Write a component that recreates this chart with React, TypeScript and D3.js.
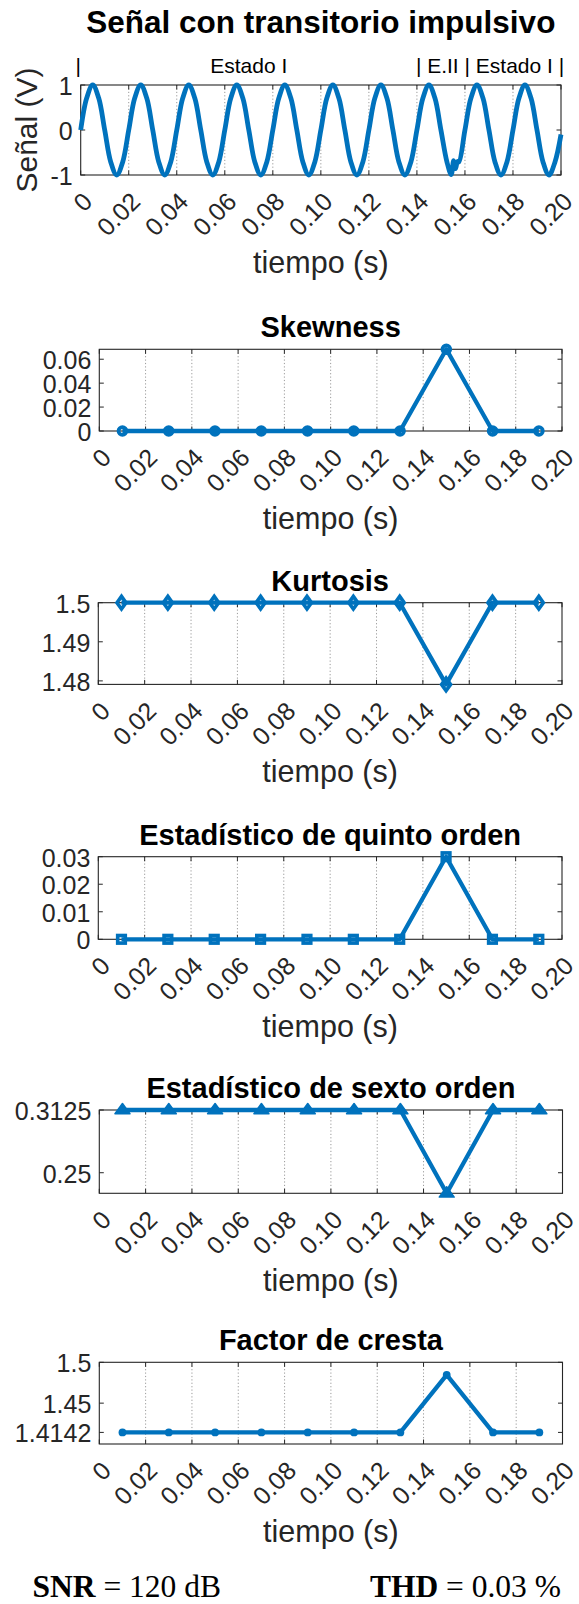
import React from "react";
import * as d3 from "d3";

// ---------------- DATA ----------------
const SEGMENT_TIMES = [0.01, 0.03, 0.05, 0.07, 0.09, 0.11, 0.13, 0.15, 0.17, 0.19];
const SKEWNESS = [0, 0, 0, 0, 0, 0, 0, 0.0683, 0, 0];
const KURTOSIS = [1.5, 1.5, 1.5, 1.5, 1.5, 1.5, 1.5, 1.4791, 1.5, 1.5];
const FIFTH_ORDER = [0, 0, 0, 0, 0, 0, 0, 0.03, 0, 0];
const SIXTH_ORDER = [0.3125, 0.3125, 0.3125, 0.3125, 0.3125, 0.3125, 0.3125, 0.2295, 0.3125, 0.3125];
const CREST_FACTOR = [1.4142, 1.4142, 1.4142, 1.4142, 1.4142, 1.4142, 1.4142, 1.4845, 1.4142, 1.4142];

const X_TICKS = [0, 0.02, 0.04, 0.06, 0.08, 0.1, 0.12, 0.14, 0.16, 0.18, 0.2];
const X_TICK_LABELS = ["0", "0.02", "0.04", "0.06", "0.08", "0.10", "0.12", "0.14", "0.16", "0.18", "0.20"];

const SIGNAL_YLIM = [-1, 1];
const SIGNAL_YTICKS = [-1, 0, 1];
const SIGNAL_YTICK_LABELS = ["-1", "0", "1"];

const SKEW_YLIM = [0, 0.0683];
const SKEW_YTICKS = [0, 0.02, 0.04, 0.06];
const SKEW_YTICK_LABELS = ["0", "0.02", "0.04", "0.06"];
const KURT_YLIM = [1.4791, 1.5];
const KURT_YTICKS = [1.48, 1.49, 1.5];
const KURT_YTICK_LABELS = ["1.48", "1.49", "1.5"];
const FIFTH_YLIM = [0, 0.03];
const FIFTH_YTICKS = [0, 0.01, 0.02, 0.03];
const FIFTH_YTICK_LABELS = ["0", "0.01", "0.02", "0.03"];
const SIXTH_YLIM = [0.2295, 0.3125];
const SIXTH_YTICKS = [0.25, 0.3125];
const SIXTH_YTICK_LABELS = ["0.25", "0.3125"];
const CREST_YLIM = [1.4, 1.5];
const CREST_YTICKS = [1.4142, 1.45, 1.5];
const CREST_YTICK_LABELS = ["1.4142", "1.45", "1.5"];

// signal read at every 1/8 of a period (step 0.0025 s), from t = 0 to t = 0.2
const SIGNAL_STEP = 0.0025;
const SIGNAL_VALUES = [
  0, 0.71, 1, 0.71, 0, -0.71, -1, -0.71,
  0, 0.71, 1, 0.71, 0, -0.71, -1, -0.71,
  0, 0.71, 1, 0.71, 0, -0.71, -1, -0.71,
  0, 0.71, 1, 0.71, 0, -0.71, -1, -0.71,
  0, 0.71, 1, 0.71, 0, -0.71, -1, -0.71,
  0, 0.71, 1, 0.71, 0, -0.71, -1, -0.71,
  0, 0.71, 1, 0.71, 0, -0.71, -1, -0.71,
  0, 0.71, 1, 0.71, 0, -0.71, -1, -0.71,
  0, 0.71, 1, 0.71, 0, -0.71, -1, -0.71,
  0, 0.71, 1, 0.71, 0, -0.71, -1, -0.71,
  -0.1,
];
// impulsive transient near the trough at t ≈ 0.155 s
const TRANSIENT_T = [0.1543, 0.1553, 0.1561, 0.1569];
const TRANSIENT_V = [-0.99, -0.68, -0.86, -0.7];
const TRANSIENT_WINDOW = [0.153, 0.157];

const STATE_LABELS = ["|", "Estado I", "| E.II | Estado I |"];
const STATE_T = [0, 0.07, 0.14];

// ---------------- STYLE ----------------
const BLUE = "#0072BD";
const AXIS = "#262626";
const GRID = "#9a9a9a";
const FONT = "'Liberation Sans', Arial, Helvetica, sans-serif";
const SERIF = "'Liberation Serif', 'Times New Roman', serif";
const TICK_FS = 25;
const LABEL_FS = 30.5;
const TITLE_FS = 29;
const MAIN_TITLE_FS = 31.5;
const TICK_LEN = 4.5;

type PanelCfg = {
  title: string;
  values: number[];
  ylim: number[];
  yticks: number[];
  ylabels: string[];
  marker: string;
  left: number;
  right: number;
  top: number;
  height: number;
};

const PANELS: PanelCfg[] = [
  { title: "Skewness", values: SKEWNESS, ylim: SKEW_YLIM, yticks: SKEW_YTICKS, ylabels: SKEW_YTICK_LABELS, marker: "circle", left: 99.3, right: 562, top: 349.3, height: 81.7 },
  { title: "Kurtosis", values: KURTOSIS, ylim: KURT_YLIM, yticks: KURT_YTICKS, ylabels: KURT_YTICK_LABELS, marker: "diamond", left: 98.3, right: 562, top: 602.7, height: 81.7 },
  { title: "Estadístico de quinto orden", values: FIFTH_ORDER, ylim: FIFTH_YLIM, yticks: FIFTH_YTICKS, ylabels: FIFTH_YTICK_LABELS, marker: "square", left: 98.3, right: 562, top: 856.7, height: 82.6 },
  { title: "Estadístico de sexto orden", values: SIXTH_ORDER, ylim: SIXTH_YLIM, yticks: SIXTH_YTICKS, ylabels: SIXTH_YTICK_LABELS, marker: "triangle", left: 99.3, right: 562.5, top: 1110, height: 83.3 },
  { title: "Factor de cresta", values: CREST_FACTOR, ylim: CREST_YLIM, yticks: CREST_YTICKS, ylabels: CREST_YTICK_LABELS, marker: "dot", left: 99.3, right: 562.5, top: 1362.3, height: 81.7 },
];

function Marker({ kind, x, y }: { kind: string; x: number; y: number }) {
  if (kind === "circle")
    return <circle cx={x} cy={y} r={3.9} fill="none" stroke={BLUE} strokeWidth={3.8} />;
  if (kind === "diamond")
    return (
      <path
        d={`M${x},${y - 6.3}L${x + 4.5},${y}L${x},${y + 6.3}L${x - 4.5},${y}Z`}
        fill="none"
        stroke={BLUE}
        strokeWidth={3.6}
      />
    );
  if (kind === "square")
    return <rect x={x - 3.8} y={y - 3.8} width={7.6} height={7.6} fill="none" stroke={BLUE} strokeWidth={3.6} />;
  if (kind === "triangle")
    return (
      <path
        d={`M${x},${y - 6.5}L${x + 7.5},${y + 3.8}L${x - 7.5},${y + 3.8}Z`}
        fill={BLUE}
        stroke={BLUE}
        strokeWidth={1.5}
        strokeLinejoin="round"
      />
    );
  return <circle cx={x} cy={y} r={3.9} fill={BLUE} />;
}

function Frame({
  x,
  y,
  yticks,
  ylabels,
  left,
  right,
  top,
  bottom,
}: {
  x: d3.ScaleLinear<number, number>;
  y: d3.ScaleLinear<number, number>;
  yticks: number[];
  ylabels: string[];
  left: number;
  right: number;
  top: number;
  bottom: number;
}) {
  return (
    <g>
      {X_TICKS.slice(1, -1).map((t) => (
        <line key={"g" + t} x1={x(t)} x2={x(t)} y1={top} y2={bottom} stroke={GRID} strokeWidth={1} strokeDasharray="1.2,2.2" />
      ))}
      {X_TICKS.map((t) => (
        <g key={"xt" + t}>
          <line x1={x(t)} x2={x(t)} y1={bottom} y2={bottom - TICK_LEN} stroke={AXIS} strokeWidth={1} />
          <line x1={x(t)} x2={x(t)} y1={top} y2={top + TICK_LEN} stroke={AXIS} strokeWidth={1} />
        </g>
      ))}
      {yticks.map((v) => (
        <g key={"yt" + v}>
          <line x1={left} x2={left + TICK_LEN} y1={y(v)} y2={y(v)} stroke={AXIS} strokeWidth={1} />
          <line x1={right} x2={right - TICK_LEN} y1={y(v)} y2={y(v)} stroke={AXIS} strokeWidth={1} />
        </g>
      ))}
      <rect x={left} y={top} width={right - left} height={bottom - top} fill="none" stroke={AXIS} strokeWidth={1.1} />
      {yticks.map((v, i) => (
        <text key={"yl" + v} x={left - 8} y={y(v)} dy="0.4em" textAnchor="end" fontSize={TICK_FS} fill={AXIS} fontFamily={FONT}>
          {ylabels[i]}
        </text>
      ))}
      {X_TICKS.map((t, i) => (
        <text
          key={"xl" + t}
          transform={`translate(${x(t) + 7},${bottom + 22}) rotate(-45)`}
          dy="0.35em"
          textAnchor="end"
          fontSize={TICK_FS}
          fill={AXIS}
          fontFamily={FONT}
        >
          {X_TICK_LABELS[i]}
        </text>
      ))}
      <text x={(left + right) / 2} y={bottom + 98} textAnchor="middle" fontSize={LABEL_FS} fill={AXIS} fontFamily={FONT}>
        tiempo (s)
      </text>
    </g>
  );
}

function SignalPanel() {
  const left = 80.7, right = 561, top = 85, bottom = 175;
  const x = d3.scaleLinear().domain([0, 0.2]).range([left, right]);
  const y = d3.scaleLinear().domain(SIGNAL_YLIM).range([bottom, top]);
  const base: [number, number][] = SIGNAL_VALUES.map((v, i) => [i * SIGNAL_STEP, v] as [number, number]).filter(
    ([t]) => t < TRANSIENT_WINDOW[0] || t > TRANSIENT_WINDOW[1]
  );
  const tr: [number, number][] = TRANSIENT_T.map((t, i) => [t, TRANSIENT_V[i]] as [number, number]);
  const pts = base.concat(tr).sort((a, b) => a[0] - b[0]);
  const line = d3
    .line<[number, number]>()
    .x((d) => x(d[0]))
    .y((d) => y(d[1]))
    .curve(d3.curveCatmullRom.alpha(0.5));
  return (
    <g>
      <Frame x={x} y={y} yticks={SIGNAL_YTICKS} ylabels={SIGNAL_YTICK_LABELS} left={left} right={right} top={top} bottom={bottom} />
      <path d={line(pts) || ""} fill="none" stroke={BLUE} strokeWidth={4.8} strokeLinejoin="round" />
      <text x={(left + right) / 2} y={33} textAnchor="middle" fontSize={MAIN_TITLE_FS} fontWeight="bold" fill="#000" fontFamily={FONT}>
        Señal con transitorio impulsivo
      </text>
      <text transform={`translate(37,${(top + bottom) / 2}) rotate(-90)`} textAnchor="middle" fontSize={30} fill={AXIS} fontFamily={FONT}>
        Señal (V)
      </text>
      {STATE_LABELS.map((s, i) => (
        <text
          key={s}
          x={x(STATE_T[i]) + (i === 0 ? -2.5 : i === 2 ? -1 : 0)}
          y={73}
          textAnchor={i === 2 ? "start" : "middle"}
          fontSize={21}
          fill="#000"
          fontFamily={FONT}
        >
          {s}
        </text>
      ))}
    </g>
  );
}

function StatPanel({ cfg }: { cfg: PanelCfg }) {
  const bottom = cfg.top + cfg.height;
  const x = d3.scaleLinear().domain([0, 0.2]).range([cfg.left, cfg.right]);
  const y = d3.scaleLinear().domain(cfg.ylim).range([bottom, cfg.top]);
  const data: [number, number][] = SEGMENT_TIMES.map((t, i) => [t, cfg.values[i]] as [number, number]);
  const line = d3
    .line<[number, number]>()
    .x((d) => x(d[0]))
    .y((d) => y(d[1]));
  return (
    <g>
      <Frame x={x} y={y} yticks={cfg.yticks} ylabels={cfg.ylabels} left={cfg.left} right={cfg.right} top={cfg.top} bottom={bottom} />
      <path d={line(data) || ""} fill="none" stroke={BLUE} strokeWidth={4.3} strokeLinejoin="round" />
      {data.map((d, i) => (
        <Marker key={i} kind={cfg.marker} x={x(d[0])} y={y(d[1])} />
      ))}
      <text x={(cfg.left + cfg.right) / 2} y={cfg.top - 12} textAnchor="middle" fontSize={TITLE_FS} fontWeight="bold" fill="#000" fontFamily={FONT}>
        {cfg.title}
      </text>
    </g>
  );
}

export default function App() {
  return (
    <div style={{ position: "absolute", left: 0, top: 0, width: 579, height: 1604, background: "#fff" }}>
      <svg width={579} height={1604} viewBox="0 0 579 1604" style={{ display: "block" }}>
        <rect x={0} y={0} width={579} height={1604} fill="#fff" />
        <SignalPanel />
        {PANELS.map((p) => (
          <StatPanel key={p.title} cfg={p} />
        ))}
        <text x={32.6} y={1597} fontSize={31.5} fontFamily={SERIF} fill="#000">
          <tspan fontWeight="bold">SNR</tspan>
          <tspan> = 120 dB</tspan>
        </text>
        <text x={561} y={1597} textAnchor="end" fontSize={31.5} fontFamily={SERIF} fill="#000">
          <tspan fontWeight="bold">THD</tspan>
          <tspan> = 0.03 %</tspan>
        </text>
      </svg>
    </div>
  );
}
